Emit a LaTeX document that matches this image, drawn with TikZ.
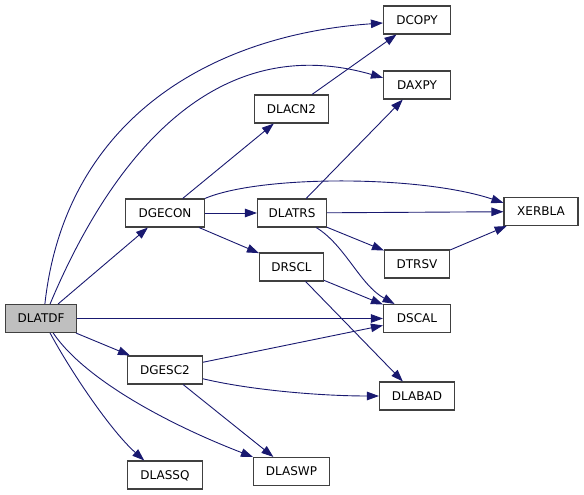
\documentclass[tikz,border=0pt]{standalone}
\usepackage{fontspec}
\setmainfont{DejaVu Sans}
\usetikzlibrary{arrows.meta}
\definecolor{edgeblue}{HTML}{191970}
\definecolor{rootgray}{HTML}{BFBFBF}

\begin{document}
\begin{tikzpicture}[x=1pt, y=-1pt,
  box/.style={rectangle, draw=black!75, line width=1.1pt, fill=white, minimum height=28pt, inner sep=2pt, text height=8.8pt, text depth=0pt, font=\fontsize{12}{14}\selectfont},
  arrow/.style={-{Triangle[length=12pt,width=8.5pt]}, draw=edgeblue, line width=0.9pt}
]
  \useasboundingbox (0,0) rectangle (584,495);

  % caller and first level
  \node[box, fill=rootgray, minimum width=71pt] (dlatdf) at (41,318.5) {DLATDF};
  \node[box, minimum width=79pt] (dgecon) at (165,213) {DGECON};
  \node[box, minimum width=75pt] (dgesc2) at (165,370) {DGESC2};
  \node[box, minimum width=75pt] (dlassq) at (165,475) {DLASSQ};

  % second level
  \node[box, minimum width=74pt] (dlacn2) at (291.5,109) {DLACN2};
  \node[box, minimum width=69pt] (dlatrs) at (292,213) {DLATRS};
  \node[box, minimum width=64pt] (drscl) at (291.5,267) {DRSCL};
  \node[box, minimum width=76pt] (dlaswp) at (291.5,471.5) {DLASWP};

  % leaves
  \node[box, minimum width=67pt] (dcopy) at (417,20) {DCOPY};
  \node[box, minimum width=67pt] (daxpy) at (417,85) {DAXPY};
  \node[box, minimum width=65pt] (dtrsv) at (417,264) {DTRSV};
  \node[box, minimum width=67pt] (dscal) at (417,318.5) {DSCAL};
  \node[box, minimum width=75pt] (dlabad) at (417,396) {DLABAD};
  \node[box, minimum width=74pt] (xerbla) at (541,211.5) {XERBLA};

  % calls from DLATDF
  \draw[arrow] (dlatdf.75) .. controls (65,120) and (210,35) .. (dcopy.185);
  \draw[arrow] (dlatdf.58) .. controls (100,185) and (200,25) .. (daxpy.168);
  \draw[arrow] (dlatdf) -- (dgecon);
  \draw[arrow] (dlatdf) -- (dscal);
  \draw[arrow] (dlatdf) -- (dgesc2);
  \draw[arrow] (dlatdf.310) .. controls (85,380) and (170,425) .. (dlaswp.north west);
  \draw[arrow] (dlatdf.302) .. controls (70,370) and (110,430) .. (dlassq.145);

  % calls from DGECON
  \draw[arrow] (dgecon) -- (dlacn2);
  \draw[arrow] (dgecon) -- (dlatrs);
  \draw[arrow] (dgecon) -- (drscl);
  \draw[arrow] (dgecon.20) .. controls (260,175) and (420,175) .. (xerbla.167);

  % calls from DLACN2, DLATRS, DRSCL, DTRSV
  \draw[arrow] (dlacn2) -- (dcopy);
  \draw[arrow] (dlatrs) -- (daxpy);
  \draw[arrow] (dlatrs) -- (xerbla);
  \draw[arrow] (dlatrs) -- (dtrsv);
  \draw[arrow] (dlatrs.329) .. controls (345,245) and (360,285) .. (dscal.147);
  \draw[arrow] (drscl) -- (dscal);
  \draw[arrow] (drscl) -- (dlabad);
  \draw[arrow] (dtrsv) -- (xerbla);

  % calls from DGESC2
  \draw[arrow] (dgesc2) -- (dscal);
  \draw[arrow] (dgesc2.347) .. controls (250,390) and (320,396) .. (dlabad.west);
  \draw[arrow] (dgesc2) -- (dlaswp);
\end{tikzpicture}
\end{document}
